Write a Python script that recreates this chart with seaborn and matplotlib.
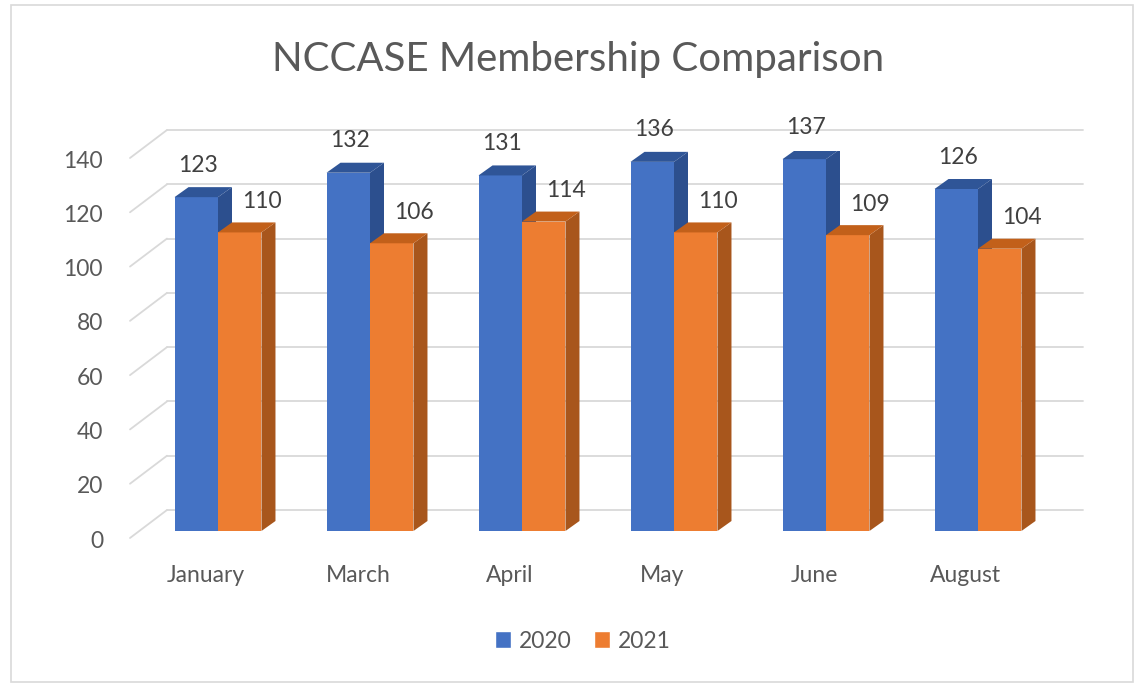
import pandas as pd
import matplotlib.pyplot as plt
import matplotlib.patches as mpatches
import seaborn as sb

# NCCASE membership, 2020 vs 2021
months = ['January', 'March', 'April', 'May', 'June', 'August']
members_2020 = [123, 132, 131, 136, 137, 126]
members_2021 = [110, 106, 114, 110, 109, 104]
years = ['2020', '2021']
ticks = [0, 20, 40, 60, 80, 100, 120, 140]

df = pd.DataFrame({'month': months * 2,
                   'members': members_2020 + members_2021,
                   'year': [years[0]] * len(months) + [years[1]] * len(months)})

front = {'2020': '#4472C4', '2021': '#ED7D31'}
side = {'2020': '#2C4F8E', '2021': '#A8561C'}
top = {'2020': '#2F5597', '2021': '#C2601A'}
grid_col = '#D9D9D9'
text_col = '#595959'

sb.set_style('white')
plt.rcParams['font.family'] = ['Lato', 'DejaVu Sans']

W, H = 1136, 687
fig = plt.figure(figsize=(W / 100, H / 100), dpi=100)

# axes placed so that pixel geometry is easy to reason about
px_left, px_right = 130, 1083
px_zero, px_top = 531, 151
c0, step = 218, 152
ax = fig.add_axes([px_left / W, (H - px_zero) / H, (px_right - px_left) / W, (px_zero - px_top) / H])

sb.barplot(data=df, x='month', y='members', hue='year', palette=front,
           width=0.572, saturation=1, ax=ax, legend=True)
ax.set_xlim((px_left - c0) / step, (px_right - c0) / step)
ax.set_ylim(0, 140)
ax.axis('off')

# pixel -> data conversion
ux = 1 / step
uy = 140 / (px_zero - px_top)

# depth of bars
bdx, bdy = 14 * ux, 10 * uy

for i, cont in enumerate(ax.containers):
    yr = years[i]
    for bar in cont:
        bar.set_zorder(3 + i)
        bar.set_edgecolor('none')
        x0 = bar.get_x()
        x1 = x0 + bar.get_width()
        h = bar.get_height()
        ax.add_patch(mpatches.Polygon([(x1, 0), (x1 + bdx, bdy), (x1 + bdx, h + bdy), (x1, h)],
                                      closed=True, fc=side[yr], ec='none', zorder=3 + i))
        ax.add_patch(mpatches.Polygon([(x0, h), (x0 + bdx, h + bdy), (x1 + bdx, h + bdy), (x1, h)],
                                      closed=True, fc=top[yr], ec='none', zorder=3 + i))
        xc = x0 + bar.get_width() / 2
        if i == 0:
            ax.text(xc + 2 * ux, h + 32 * uy, str(int(h)), ha='center', va='center',
                    fontsize=16.5, color='#404040', zorder=6)
        else:
            ax.text(xc + 2 * ux, h + 31 * uy, str(int(h)), ha='left', va='center',
                    fontsize=16.5, color='#404040', zorder=6)

# gridlines: back wall + diagonal to the front
fx, fy = (px_left - c0) / step, -7 * uy
bx, by = (167 - c0) / step, 21 * uy
rx = (px_right - c0) / step
for t in ticks:
    ax.plot([fx, bx], [t + fy, t + by], color=grid_col, lw=1.3, zorder=1, clip_on=False)
    ax.plot([bx, rx], [t + by, t + by], color=grid_col, lw=1.3, zorder=1, clip_on=False)
    ax.text(fx - 27 * ux, t + fy - 3 * uy, str(t), ha='right', va='center',
            fontsize=16.5, color=text_col)

# category labels
for j, m in enumerate(months):
    ax.text(j - 12 * ux, -44 * uy, m, ha='center', va='center', fontsize=16.5, color=text_col)

sb.move_legend(ax, 'center', bbox_to_anchor=(583 / W, (H - 641) / H),
               bbox_transform=fig.transFigure, ncol=2, frameon=False, title=None,
               fontsize=16.5, handlelength=0.7, handleheight=0.7,
               handletextpad=0.35, columnspacing=0.95)
for txt in ax.get_legend().get_texts():
    txt.set_color(text_col)

fig.text(578 / W, (H - 60) / H, 'NCCASE Membership Comparison', ha='center', va='center',
         fontsize=29, color=text_col)

# chart border
fig.patches.append(mpatches.Rectangle((11 / W, 5 / H), 1122 / W, 677 / H, transform=fig.transFigure,
                                      fill=False, ec='#D9D9D9', lw=1.2))

plt.savefig('out.png', dpi=100)
